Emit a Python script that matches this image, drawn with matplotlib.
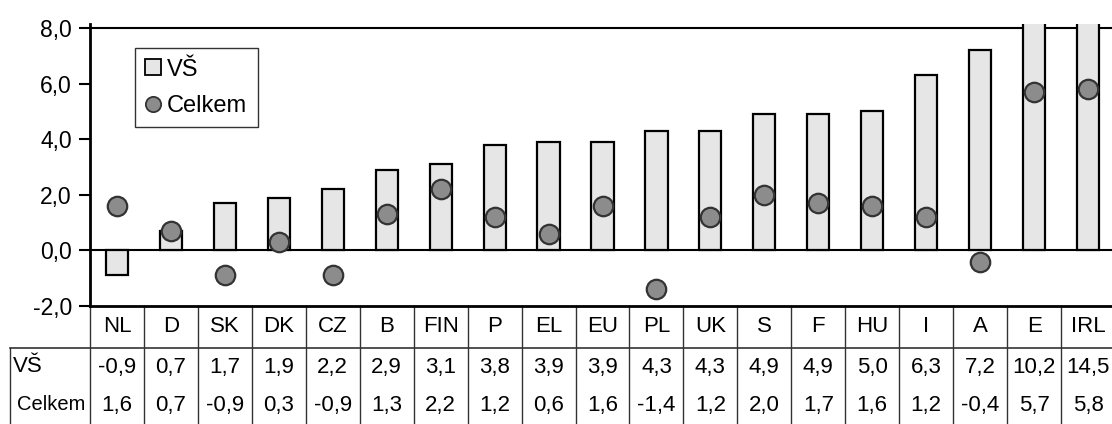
import matplotlib
matplotlib.use("Agg")
import matplotlib.pyplot as plt
from matplotlib.lines import Line2D
from matplotlib.transforms import blended_transform_factory

plt.rcParams['font.family'] = ['Liberation Sans', 'DejaVu Sans']

countries = ["NL", "D", "SK", "DK", "CZ", "B", "FIN", "P", "EL", "EU",
             "PL", "UK", "S", "F", "HU", "I", "A", "E", "IRL"]
vs = [-0.9, 0.7, 1.7, 1.9, 2.2, 2.9, 3.1, 3.8, 3.9, 3.9,
      4.3, 4.3, 4.9, 4.9, 5.0, 6.3, 7.2, 10.2, 14.5]
celkem = [1.6, 0.7, -0.9, 0.3, -0.9, 1.3, 2.2, 1.2, 0.6, 1.6,
          -1.4, 1.2, 2.0, 1.7, 1.6, 1.2, -0.4, 5.7, 5.8]
row_labels = ["VŠ", "Celkem"]
yticks = [-2, 0, 2, 4, 6, 8]

W, H = 1112, 424
FS = 16
fig = plt.figure(figsize=(W / 100, H / 100), dpi=100)
ax_left, ax_right, ax_bot, ax_top = 90, 1115, 306, 23.8
ax = fig.add_axes([ax_left / W, 1 - ax_bot / H, (ax_right - ax_left) / W, (ax_bot - ax_top) / H])

x = list(range(len(countries)))
bar_face = "#e6e6e6"
dot_face = "#8c8c8c"
dot_edge = "#333333"

ax.axhline(0, color="black", lw=1.5, zorder=1)
ax.axhline(8, color="black", lw=1.5, zorder=1)
ax.bar(x, vs, width=0.41, color=bar_face, edgecolor="black", linewidth=1.6, zorder=2)
ax.plot(x, celkem, linestyle="none", marker="o", markersize=14,
        markerfacecolor=dot_face, markeredgecolor=dot_edge, markeredgewidth=1.6, zorder=3)

ax.set_xlim(-0.5, len(countries) - 0.5)
ax.set_ylim(-2, 8.15)
ax.set_yticks(yticks)
ax.set_yticklabels([f"{v:.1f}".replace(".", ",") for v in yticks], fontsize=16.5)
ax.set_xticks([])
ax.tick_params(axis="y", direction="out", length=8, width=1.5, pad=5)
for s in ["top", "right"]:
    ax.spines[s].set_visible(False)
ax.spines["left"].set_linewidth(2)
ax.spines["bottom"].set_linewidth(2)

handles = [
    Line2D([], [], linestyle="none", marker="s", markersize=11,
           markerfacecolor=bar_face, markeredgecolor="black", markeredgewidth=1.3),
    Line2D([], [], linestyle="none", marker="o", markersize=11,
           markerfacecolor=dot_face, markeredgecolor=dot_edge, markeredgewidth=1.3),
]
leg = ax.legend(handles, row_labels, loc="upper left",
                bbox_to_anchor=((135 - ax_left) / (ax_right - ax_left), (ax_bot - 48) / (ax_bot - ax_top)),
                borderaxespad=0, fontsize=17, frameon=True, fancybox=False,
                handlelength=0.6, handletextpad=0.3, labelspacing=0.6,
                borderpad=0.45, framealpha=1)
leg.get_frame().set_edgecolor("#333333")
leg.get_frame().set_linewidth(1)

# data table under the axis
tr = blended_transform_factory(ax.transData, fig.transFigure)
fy = lambda py: 1 - py / H
line_col = "#333333"
for i in range(len(countries) + 1):
    ax.add_line(Line2D([i - 0.5, i - 0.5], [fy(ax_bot), 0], transform=tr,
                       color=line_col, lw=1, clip_on=False))
fig.add_artist(Line2D([10 / W, 1], [fy(348), fy(348)], color=line_col, lw=1.2))
fig.add_artist(Line2D([10 / W, 10 / W], [fy(348), 0], color=line_col, lw=1))

for i, c in enumerate(countries):
    ax.text(i, fy(327), c, transform=tr, ha="center", va="center", fontsize=FS)
    ax.text(i, fy(367), f"{vs[i]:.1f}".replace(".", ","), transform=tr,
            ha="center", va="center", fontsize=FS)
    ax.text(i, fy(405), f"{celkem[i]:.1f}".replace(".", ","), transform=tr,
            ha="center", va="center", fontsize=FS)
fig.text(13 / W, fy(367), row_labels[0], ha="left", va="center", fontsize=FS)
fig.text(17 / W, fy(405), row_labels[1], ha="left", va="center", fontsize=14.5)

fig.savefig("out.png", dpi=100)
